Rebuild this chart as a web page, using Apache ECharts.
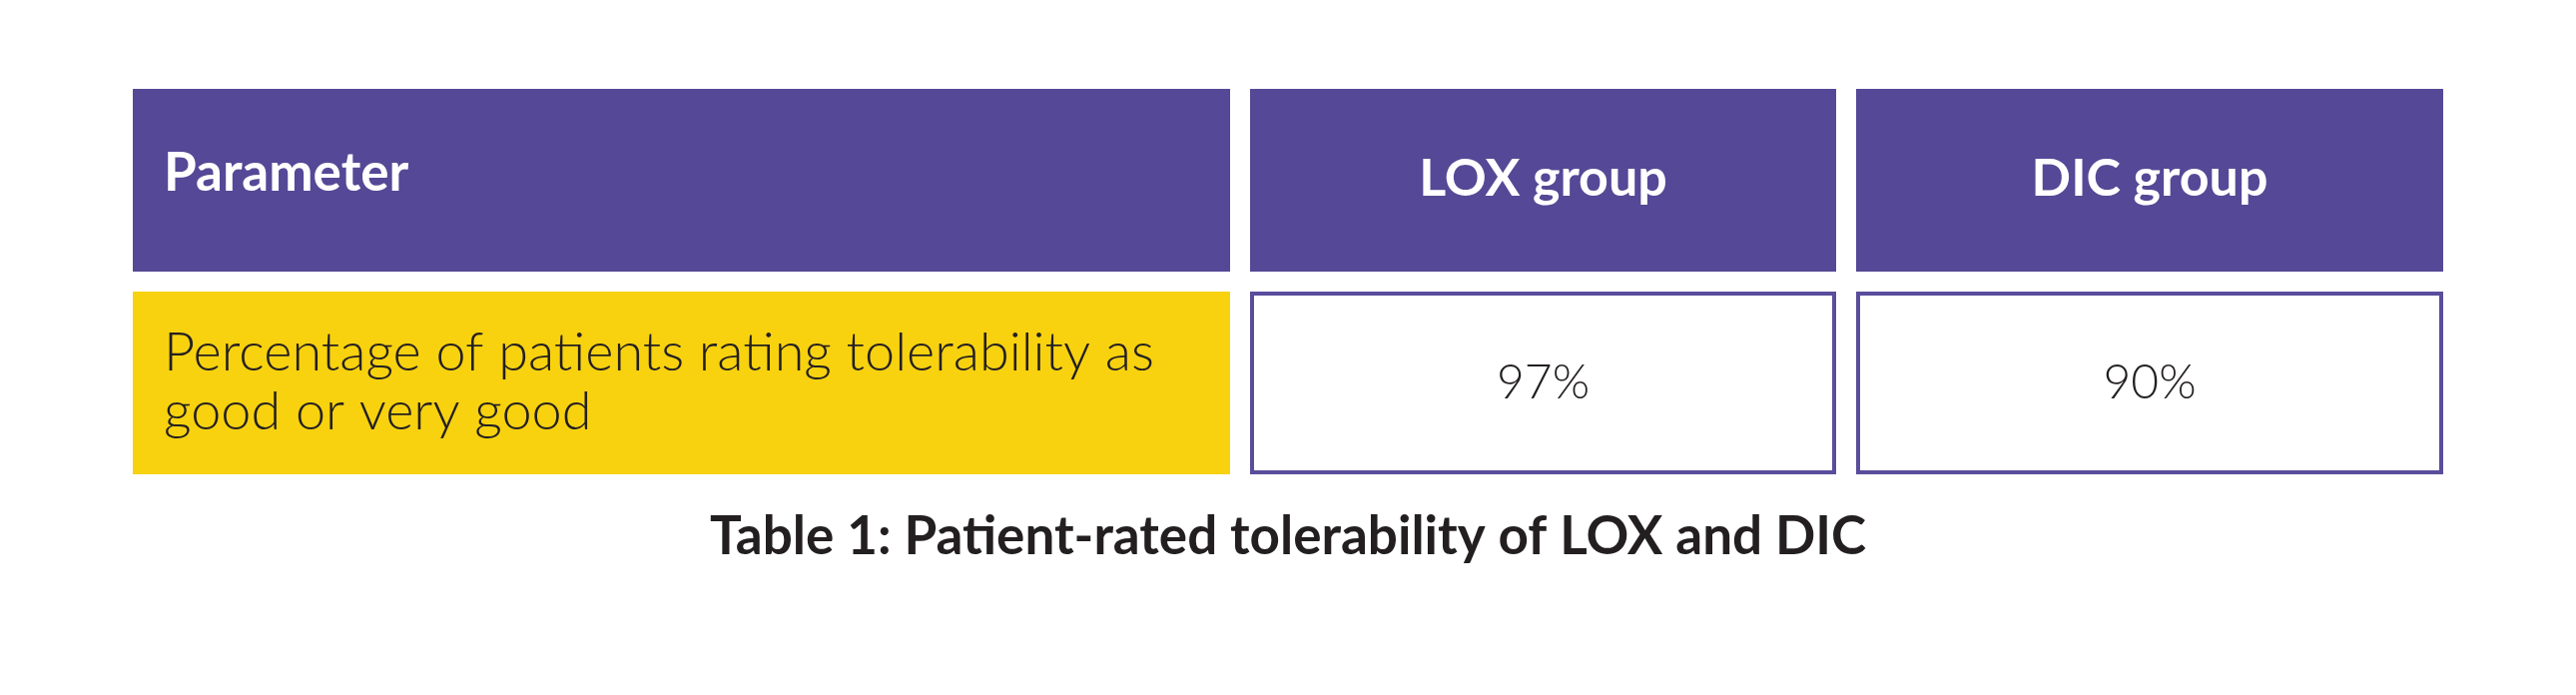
<!DOCTYPE html>
<html>
<head>
<meta charset="utf-8">
<title>Table 1</title>
<script src="https://cdn.jsdelivr.net/npm/echarts@6/dist/echarts.min.js"></script>
<style>
  html, body { margin: 0; padding: 0; background: #fff; }
  #main { width: 2580px; height: 696px; }
</style>
</head>
<body>
<div id="main"></div>
<script>
// table content
var columns = ['Parameter', 'LOX group', 'DIC group'];
var rowLabels = ['Percentage of patients rating tolerability as\ngood or very good'];
var loxValues = [97];
var dicValues = [90];
var caption = 'Table 1: Patient-rated tolerability of LOX and DIC';

var PURPLE = '#554896';
var YELLOW = '#f8d20f';
var INK = '#231f20';
var FONT = 'Lato';
var colWeights = [1099, 587, 588]; // relative widths of the three columns
var GAP = 20;

// cells: [col, row, text]
var cells = [];
columns.forEach(function (c, i) { cells.push([i, 0, c]); });
rowLabels.forEach(function (r, j) {
  cells.push([0, j + 1, r]);
  cells.push([1, j + 1, loxValues[j] + '%']);
  cells.push([2, j + 1, dicValues[j] + '%']);
});

var totalW = colWeights.reduce(function (a, b) { return a + b; }, 0) + GAP * (colWeights.length - 1);
var colEdges = [];
var acc = 0;
colWeights.forEach(function (w) {
  colEdges.push([acc / totalW, (acc + w) / totalW]);
  acc += w + GAP;
});

var myChart = echarts.init(document.getElementById('main'));

function renderCell(params, api) {
  var col = api.value(0);
  var row = api.value(1);
  var text = cells[params.dataIndex][2];
  var p0 = api.coord([colEdges[col][0], row]);
  var p1 = api.coord([colEdges[col][1], row]);
  var bandH = api.size([0, 1])[1];
  var x = p0[0], w = p1[0] - p0[0];
  var y = p0[1] - bandH / 2 + GAP / 2, h = bandH - GAP;
  var children = [];
  var isHead = row === 0;
  var left = col === 0;
  if (isHead) {
    children.push({ type: 'rect', shape: { x: x, y: y, width: w, height: h }, style: { fill: PURPLE } });
  } else if (left) {
    children.push({ type: 'rect', shape: { x: x, y: y, width: w, height: h }, style: { fill: YELLOW } });
  } else {
    children.push({ type: 'rect', shape: { x: x + 2, y: y + 2, width: w - 4, height: h - 4 },
      style: { fill: '#fff', stroke: '#5a4d9b', lineWidth: 4 } });
  }
  var size = isHead ? (left ? 53 : 52) : (left ? 54 : 48);
  children.push({
    type: 'text',
    style: {
      x: left ? x + 31 : x + w / 2,
      y: y + h / 2 + (isHead ? (left ? -7 : -1) : 0),
      text: text,
      align: left ? 'left' : 'center',
      verticalAlign: 'middle',
      fill: isHead ? '#fff' : INK,
      font: (isHead ? 'bold ' : '300 ') + size + 'px ' + FONT,
      lineHeight: 59
    }
  });
  return { type: 'group', children: children };
}

var options = {
  animation: false,
  title: {
    text: caption,
    left: 'center',
    top: 506,
    textStyle: { fontFamily: FONT, fontWeight: 'bold', fontSize: 53, color: INK }
  },
  grid: { left: 133, right: 2580 - 2447, top: 79, height: 406 },
  xAxis: { type: 'value', min: 0, max: 1, show: false },
  yAxis: { type: 'category', data: ['head', 'r1'], inverse: true, show: false },
  series: [{
    type: 'custom',
    renderItem: renderCell,
    data: cells.map(function (c) { return [c[0], c[1]]; })
  }]
};
myChart.setOption(options);
window.onresize = myChart.resize;
</script>
</body>
</html>
